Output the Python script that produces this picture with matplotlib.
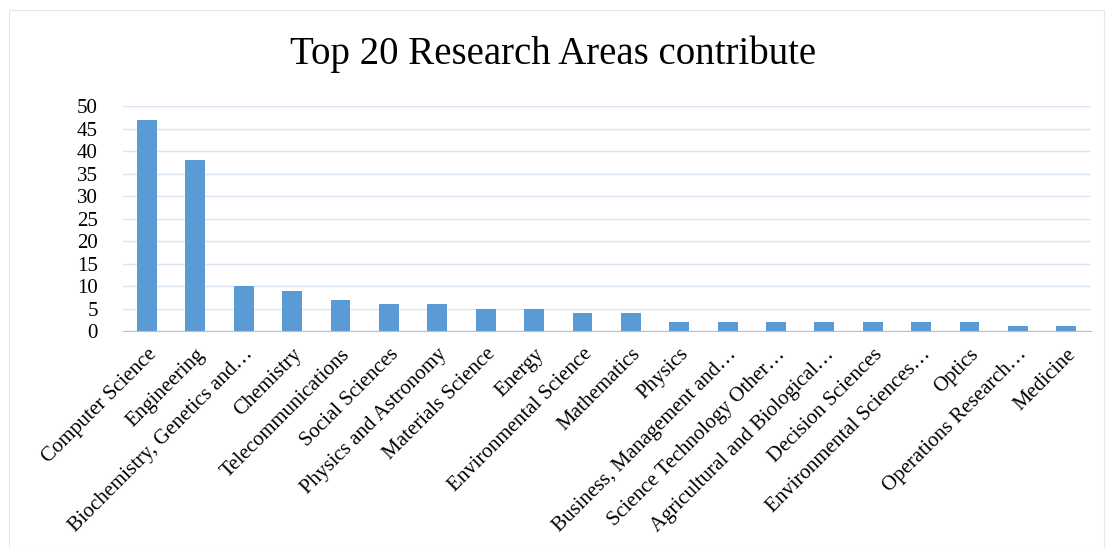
import matplotlib.pyplot as plt
from matplotlib.patches import Rectangle

areas = ['Computer Science', 'Engineering', 'Biochemistry, Genetics and…',
         'Chemistry', 'Telecommunications', 'Social Sciences',
         'Physics and Astronomy', 'Materials Science', 'Energy',
         'Environmental Science', 'Mathematics', 'Physics',
         'Business, Management and…', 'Science Technology Other…',
         'Agricultural and Biological…', 'Decision Sciences',
         'Environmental Sciences…', 'Optics', 'Operations Research…', 'Medicine']
counts = [47, 38, 10, 9, 7, 6, 6, 5, 5, 4, 4, 2, 2, 2, 2, 2, 2, 2, 1, 1]
yticks = list(range(0, 51, 5))

plt.rcParams['font.family'] = ['Liberation Serif', 'DejaVu Serif']

fig = plt.figure(figsize=(11.06, 5.48), dpi=100)
fig.patches.append(Rectangle((0.008, 0.0), 0.99, 0.982, transform=fig.transFigure,
                             fill=False, edgecolor='#e6e6e6', linewidth=0.8))
ax = fig.add_axes([0.111, 0.396, 0.875, 0.41])

x = range(len(areas))
ax.bar(x, counts, width=0.41, color='#5b9bd5', zorder=3)

ax.set_xlim(-0.5, len(areas) - 0.5)
ax.set_ylim(0, 50)
ax.set_yticks(yticks)
ax.set_xticks(list(x))
ax.set_xticklabels(areas, rotation=45, ha='right', rotation_mode='anchor', fontsize=15)
ax.tick_params(axis='y', labelsize=15, length=0, pad=18)
ax.tick_params(axis='x', length=0, pad=10)

ax.grid(axis='y', color='#d9e6f4', linewidth=1, zorder=0)
for s in ['top', 'right', 'left']:
    ax.spines[s].set_visible(False)
ax.spines['bottom'].set_color('#bfbfbf')
ax.spines['bottom'].set_zorder(4)

fig.suptitle('Top 20 Research Areas contribute', fontsize=28, y=0.935)

fig.savefig('out.png', dpi=100)
